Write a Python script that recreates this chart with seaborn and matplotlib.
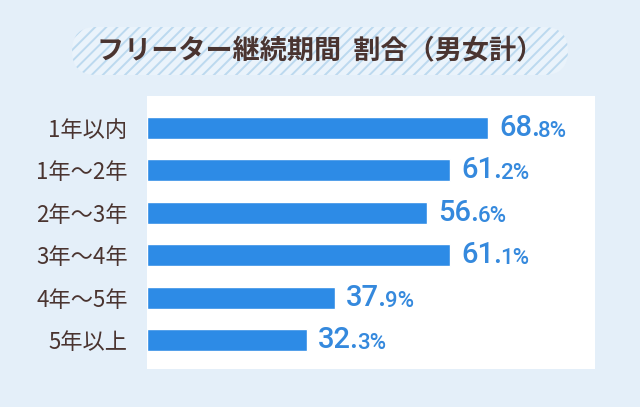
import matplotlib
matplotlib.use("Agg")
import matplotlib.pyplot as plt
import seaborn as sns
import pandas as pd
from matplotlib.patches import FancyBboxPatch
from matplotlib.transforms import IdentityTransform

categories = ["1年以内", "1年～2年", "2年～3年", "3年～4年", "4年～5年", "5年以上"]
values = [68.8, 61.2, 56.6, 61.1, 37.9, 32.3]
title = "フリーター継続期間  割合（男女計）"

BG = "#e4eff9"
BAR = "#2d8be6"
TXT_BLUE = "#3589dd"
BROWN = "#4a3430"

sns.set_theme(style="white")
plt.rcParams["font.family"] = ["Noto Sans CJK JP", "DejaVu Sans"]
plt.rcParams["hatch.linewidth"] = 1.4

df = pd.DataFrame({"cat": categories, "val": values})

fig = plt.figure(figsize=(6.4, 4.07), dpi=100, facecolor=BG)
ax = fig.add_axes([147/640, 1-369/407, 448/640, 273/407])
ax.set_facecolor("white")

sns.barplot(data=df, y="cat", x="val", orient="h", color=BAR, width=0.52,
            saturation=1, ax=ax)
ax.set_xlim(0, 90.4)
ax.set_ylim(5.68, -0.755)
for s in ax.spines.values():
    s.set_visible(False)
ax.set_xticks([])
ax.set_xlabel("")
ax.set_ylabel("")
ax.tick_params(axis="y", length=0, pad=14, labelsize=16, labelcolor=BROWN)

for i, v in enumerate(values):
    s = f"{v:.1f}"
    big, small = s.split(".")
    t = ax.annotate(big + ".", xy=(v, i), xytext=(8, 0), textcoords="offset points",
                    ha="left", va="center", fontsize=21, fontweight="medium",
                    color=TXT_BLUE, family=["Roboto", "DejaVu Sans"])
    ax.annotate(small + "%", xy=(1, 0), xycoords=t, xytext=(-1.5, 0),
                textcoords="offset points", ha="left", va="bottom",
                fontsize=16, fontweight="medium", color=TXT_BLUE,
                family=["Roboto", "DejaVu Sans"])

pill = FancyBboxPatch((72, 407-75), 496, 48,
                      boxstyle="round,pad=0,rounding_size=24",
                      transform=IdentityTransform(), facecolor="#eaf3fb",
                      edgecolor="#bcd9ef", hatch="///", linewidth=0)
fig.patches.append(pill)
fig.text(0.5, 1-51/407, title, ha="center", va="center", fontsize=19.5,
         fontweight="bold", color=BROWN)

fig.savefig("out.png", dpi=100, facecolor=BG)
